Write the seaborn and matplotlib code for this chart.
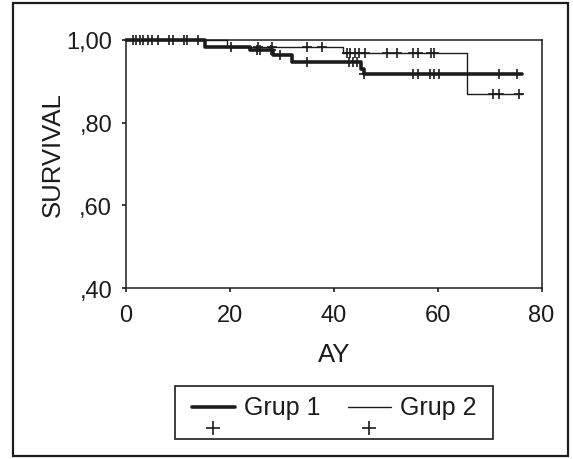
import numpy as np
import pandas as pd
import matplotlib
matplotlib.use("Agg")
import matplotlib.pyplot as plt
import seaborn as sns
from matplotlib.lines import Line2D
from matplotlib.legend_handler import HandlerBase
from matplotlib.patches import Rectangle

# ---- data ----
g1_times = [0, 15.2, 23.9, 28.3, 31.9, 45.3, 45.8, 76.2]
g1_surv = [1.0, 0.983, 0.976, 0.962, 0.945, 0.930, 0.917, 0.917]
g1_censor = [1.3, 2.6, 4.2, 6.2, 9.0, 11.8, 13.9, 20.2, 25.2, 25.8, 27.9, 29.7,
             34.8, 42.9, 43.7, 44.5, 45.9, 55.3, 56.3, 58.6, 59.3, 60.2, 71.9, 75.3]

g2_times = [0, 19.4, 41.8, 65.6, 76.2]
g2_surv = [1.0, 0.982, 0.967, 0.869, 0.869]
g2_censor = [1.9, 3.3, 5.0, 8.3, 11.2, 25.4, 28.2, 34.9, 37.8, 42.5, 43.2, 44.1,
             44.9, 46.0, 50.3, 52.1, 55.3, 56.3, 58.7, 59.3, 70.6, 71.9, 75.6]

group_names = ["Grup 1", "Grup 2"]
x_ticks = [0, 20, 40, 60, 80]
y_ticks = [0.40, 0.60, 0.80, 1.00]
y_tick_labels = [",40", ",60", ",80", "1,00"]
x_label = "AY"
y_label = "SURVIVAL"

# ---- style ----
sns.set_style("ticks")
plt.rcParams["font.family"] = ["Liberation Sans", "DejaVu Sans"]
INK = "#1c1c1c"

W, H = 573, 460
fig = plt.figure(figsize=(W / 100, H / 100), dpi=100)
ax = fig.add_axes([126 / W, 1 - 289.3 / H, (541.5 - 126) / W, (289.3 - 40.7) / H])


def surv_at(times, surv, t):
    idx = np.searchsorted(times, t, side="right") - 1
    return np.asarray(surv)[idx]


curves = [
    (g1_times, g1_surv, g1_censor, 2.6),
    (g2_times, g2_surv, g2_censor, 1.0),
]
handles = []
for name, (tt, ss, cc, lw) in zip(group_names, curves):
    df = pd.DataFrame({"AY": tt, "S": ss})
    sns.lineplot(data=df, x="AY", y="S", ax=ax, estimator=None, sort=False,
                 drawstyle="steps-post", color=INK, linewidth=lw, clip_on=False,
                 legend=False)
    cdf = pd.DataFrame({"AY": cc, "S": surv_at(tt, ss, cc)})
    sns.scatterplot(data=cdf, x="AY", y="S", ax=ax, marker="+", s=60,
                    linewidth=1.2, color=INK, clip_on=False, legend=False, zorder=3)
    handles.append(Line2D([], [], color=INK, linewidth=lw, label=name))

ax.set_xlim(0, 80)
ax.set_ylim(0.40, 1.00)
ax.set_xticks(x_ticks)
ax.set_xticklabels([str(v) for v in x_ticks])
ax.set_yticks(y_ticks)
ax.set_yticklabels(y_tick_labels)
ax.tick_params(axis="both", direction="out", length=3, width=1.2, color=INK,
               labelsize=17, labelcolor=INK)
ax.tick_params(axis="x", pad=8)
ax.tick_params(axis="y", pad=7)
for sp in ax.spines.values():
    sp.set_visible(True)
    sp.set_linewidth(1.1)
    sp.set_color(INK)
ax.set_xlabel(x_label, fontsize=18.5, color=INK, labelpad=12)
ax.set_ylabel(y_label, fontsize=18.5, color=INK)
ax.yaxis.set_label_coords((65 - 126) / 415.5, (289.3 - 155) / 248.6)


class KMHandler(HandlerBase):
    def create_artists(self, legend, orig_handle, xdescent, ydescent, width,
                       height, fontsize, trans):
        y0 = 0.30 * fontsize - ydescent
        line = Line2D([-xdescent, width - xdescent], [y0, y0],
                      color=orig_handle.get_color(),
                      linewidth=orig_handle.get_linewidth())
        plus = Line2D([width * 0.5 - xdescent], [y0 - 0.85 * fontsize],
                      marker="+", markersize=10, markeredgewidth=1.2,
                      color=orig_handle.get_color(), linestyle="none")
        line.set_transform(trans)
        plus.set_transform(trans)
        return [line, plus]


leg = fig.legend(handles=handles, labels=group_names, ncol=2,
                 loc="center", bbox_to_anchor=(334 / W, 1 - 408.5 / H),
                 handler_map={Line2D: KMHandler()}, fontsize=18,
                 frameon=False, handlelength=1.72, handletextpad=0.38,
                 columnspacing=1.08, borderpad=0.4)
for t in leg.get_texts():
    t.set_color(INK)

# legend frame and outer figure frame
fig.patches.append(Rectangle((175 / W, 1 - 440 / H), (493 - 175) / W, (440 - 387) / H,
                             transform=fig.transFigure, fill=False,
                             linewidth=1.2, edgecolor=INK))
fig.patches.append(Rectangle((12.5 / W, 1 - 457 / H), (568 - 12.5) / W,
                             (457 - 4) / H, transform=fig.transFigure,
                             fill=False, linewidth=1.6, edgecolor=INK))

fig.savefig("out.png", dpi=100)
